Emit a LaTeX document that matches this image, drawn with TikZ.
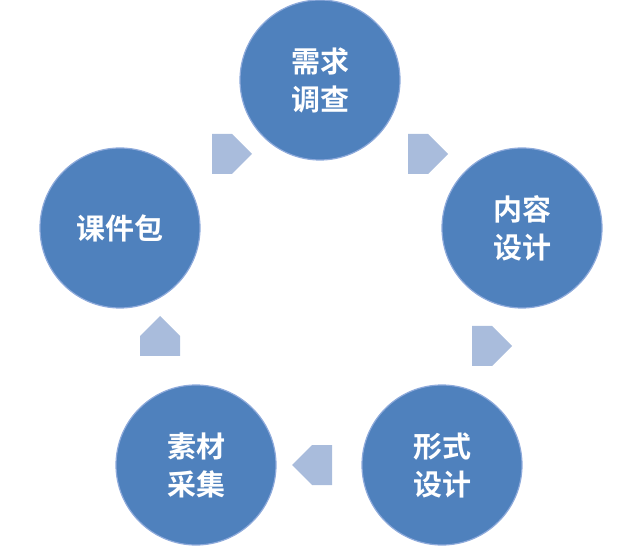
\documentclass[tikz,border=0pt]{standalone}
\usepackage{fontspec}
\newfontfamily\cjk{Noto Sans CJK SC}[BoldFont={Noto Sans CJK SC Bold}]
\usetikzlibrary{shapes.arrows}
\definecolor{cfill}{HTML}{4F81BD}
\definecolor{cedge}{HTML}{8EAADB}
\definecolor{afill}{HTML}{A9BCDC}
\tikzset{
  stage/.style={circle,minimum size=160pt,inner sep=0pt,fill=cfill,draw=cedge,line width=1.2pt,text=white,font=\cjk\bfseries\fontsize{29}{38}\selectfont,align=center},
  flow/.style={single arrow,fill=afill,draw=none,minimum height=44pt,minimum width=42pt,single arrow head extend=0pt,inner sep=0pt,single arrow tip angle=90,shape border rotate=#1}
}
\begin{document}
\begin{tikzpicture}[x=1pt,y=1pt]
\useasboundingbox (0,0) rectangle (640,552);
\node[stage] (a) at (320,472) {需求\\调查};
\node[stage] (b) at (522,324) {内容\\设计};
\node[stage] (c) at (442,87) {形式\\设计};
\node[stage] (d) at (196,87) {素材\\采集};
\node[stage] (e) at (120,324) {课件包};
\node[flow=-36,minimum height=40pt,minimum width=40pt] (ab) at (418,398) {};
\node[flow=-108,minimum height=40pt,minimum width=40pt] (bc) at (482,206) {};
\node[flow=180,minimum height=40pt,minimum width=40pt] (cd) at (322,87) {};
\node[flow=108,minimum height=40pt,minimum width=40pt] (de) at (160,206) {};
\node[flow=36,minimum height=40pt,minimum width=40pt] (ea) at (222,398) {};
\end{tikzpicture}
\end{document}
